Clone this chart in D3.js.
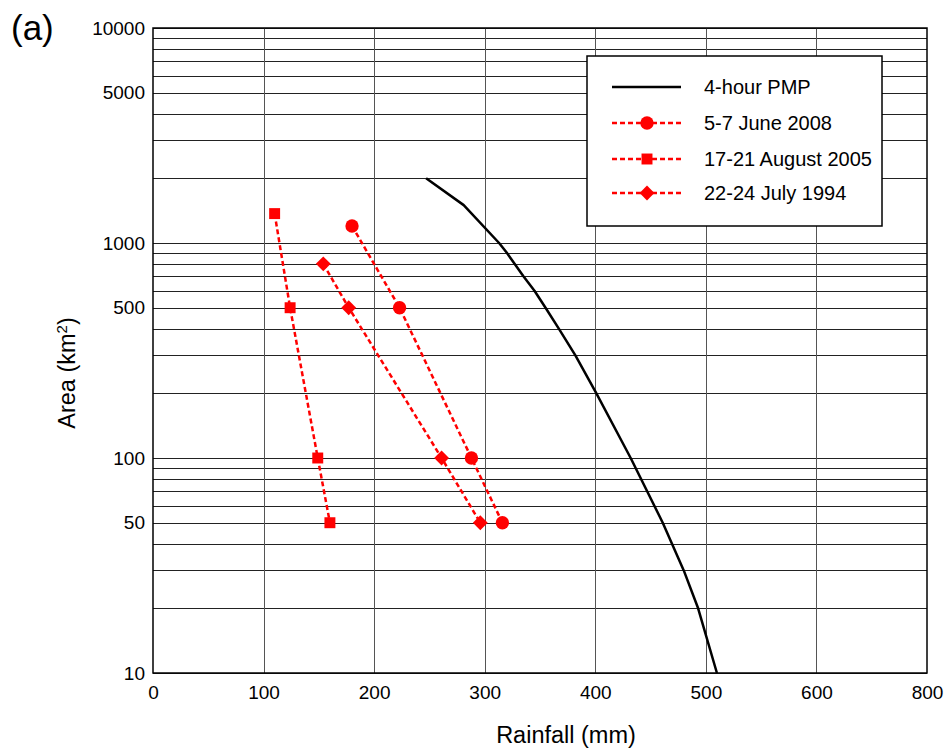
<!DOCTYPE html>
<html>
<head>
<meta charset="utf-8">
<script src="https://cdn.jsdelivr.net/npm/d3@7"></script>
<style>
  html, body { margin: 0; padding: 0; background: #fff; }
  svg { display: block; font-family: "Liberation Sans", Arial, sans-serif; }
</style>
</head>
<body>
<svg id="chart" width="948" height="752"></svg>
<script>
// ---- data ----
const pmpArea     = [2000, 1500, 1000, 900, 800, 700, 600, 500, 400, 300, 200, 100, 50, 30, 20, 10];
const pmpRain     = [247, 281, 313, 320, 327, 335, 345, 355, 367, 382, 401, 432, 461, 480, 493, 510];

const juneArea    = [1200, 500, 100, 50];
const juneRain    = [180, 223, 288, 316];

const augArea     = [1370, 500, 100, 50];
const augRain     = [110, 124, 149, 160];

const julyArea    = [800, 500, 100, 50];
const julyRain    = [154, 177, 261, 296];

const seriesNames = ["4-hour PMP", "5-7 June 2008", "17-21 August 2005", "22-24 July 1994"];
const xTickValues = [0, 100, 200, 300, 400, 500, 600, 700];
const xTickLabels = ["0", "100", "200", "300", "400", "500", "600", "800"];
const yTickValues = [10, 50, 100, 500, 1000, 5000, 10000];

// ---- layout ----
const svg = d3.select("#chart");
const L = 153, R = 927, T = 28, B = 673;
const FONT = "Liberation Sans, Arial, sans-serif";

const x = d3.scaleLinear().domain([0, 700]).range([L, R]);
const y = d3.scaleLog().domain([10, 10000]).range([B, T]);

// grid: minor log lines
const gridY = [];
[10, 100, 1000].forEach(d => { for (let k = 1; k <= 9; k++) gridY.push(d * k); });
gridY.push(10000);

svg.append("g").selectAll("line").data(gridY).join("line")
  .attr("x1", L).attr("x2", R)
  .attr("y1", d => Math.round(y(d)) + 0.5).attr("y2", d => Math.round(y(d)) + 0.5)
  .attr("stroke", "#222").attr("stroke-width", 1);

svg.append("g").selectAll("line").data(xTickValues.slice(1, -1)).join("line")
  .attr("y1", T).attr("y2", B)
  .attr("x1", d => Math.round(x(d)) + 0.5).attr("x2", d => Math.round(x(d)) + 0.5)
  .attr("stroke", "#555").attr("stroke-width", 1);

// frame
svg.append("rect").attr("x", L).attr("y", T).attr("width", R - L).attr("height", B - T)
  .attr("fill", "none").attr("stroke", "#000").attr("stroke-width", 1.5);

// axes
const xAxis = d3.axisBottom(x).tickValues(xTickValues).tickSize(0).tickPadding(13)
  .tickFormat((d, i) => xTickLabels[i]);
const gx = svg.append("g").attr("transform", `translate(0,${B})`).call(xAxis);
gx.select(".domain").remove();
gx.selectAll("text").attr("font-size", 19).attr("fill", "#000").attr("font-family", FONT);

const yAxis = d3.axisLeft(y).tickValues(yTickValues).tickSize(0).tickPadding(8)
  .tickFormat(d3.format("d"));
const gy = svg.append("g").attr("transform", `translate(${L},0)`).call(yAxis);
gy.select(".domain").remove();
gy.selectAll("text").attr("font-size", 19).attr("fill", "#000").attr("font-family", FONT);

// titles
svg.append("text").attr("x", 566).attr("y", 743).attr("text-anchor", "middle")
  .attr("font-size", 23.5).text("Rainfall (mm)");
const yt = svg.append("text").attr("transform", "translate(75,373) rotate(-90)")
  .attr("text-anchor", "middle").attr("font-size", 23.5);
yt.append("tspan").text("Area (km");
yt.append("tspan").attr("font-size", 15).attr("dy", -8).text("2");
yt.append("tspan").attr("dy", 8).text(")");
svg.append("text").attr("x", 11).attr("y", 40).attr("font-size", 35).text("(a)");

// lines
const line = d3.line().x(d => x(d[0])).y(d => y(d[1]));
const zip = (a, b) => a.map((v, i) => [v, b[i]]);

svg.append("path").datum(zip(pmpRain, pmpArea)).attr("d", line)
  .attr("fill", "none").attr("stroke", "#000").attr("stroke-width", 2.5)
  .attr("stroke-linejoin", "round");

const red = "#ff0000";
const redSeries = [
  { pts: zip(juneRain, juneArea), sym: d3.symbolCircle, size: 140, rot: 0 },
  { pts: zip(augRain, augArea), sym: d3.symbolSquare, size: 120, rot: 0 },
  { pts: zip(julyRain, julyArea), sym: d3.symbolSquare, size: 110, rot: 45 }
];
redSeries.forEach(s => {
  svg.append("path").datum(s.pts).attr("d", line)
    .attr("fill", "none").attr("stroke", red).attr("stroke-width", 2.5)
    .attr("stroke-dasharray", "5,3");
  svg.append("g").selectAll("path").data(s.pts).join("path")
    .attr("transform", d => `translate(${x(d[0])},${y(d[1])}) rotate(${s.rot})`)
    .attr("d", d3.symbol().type(s.sym).size(s.size))
    .attr("fill", red);
});

// legend
const lg = svg.append("g");
lg.append("rect").attr("x", 587).attr("y", 56).attr("width", 295).attr("height", 170)
  .attr("fill", "#fff").attr("stroke", "#000").attr("stroke-width", 1.5);
const rowsY = [87, 123, 159, 193];
const legSyms = [null, d3.symbolCircle, d3.symbolSquare, d3.symbolSquare];
const legSizes = [0, 140, 120, 110];
const legRot = [0, 0, 0, 45];
seriesNames.forEach((name, i) => {
  const yy = rowsY[i];
  const ln = lg.append("line").attr("x1", 612).attr("x2", 681).attr("y1", yy).attr("y2", yy)
    .attr("stroke", i === 0 ? "#000" : red).attr("stroke-width", 2.5);
  if (i > 0) {
    ln.attr("stroke-dasharray", "5,3");
    lg.append("path").attr("transform", `translate(647,${yy}) rotate(${legRot[i]})`)
      .attr("d", d3.symbol().type(legSyms[i]).size(legSizes[i])).attr("fill", red);
  }
  lg.append("text").attr("x", 704).attr("y", yy + 7).attr("font-size", 20).text(name);
});
</script>
</body>
</html>
